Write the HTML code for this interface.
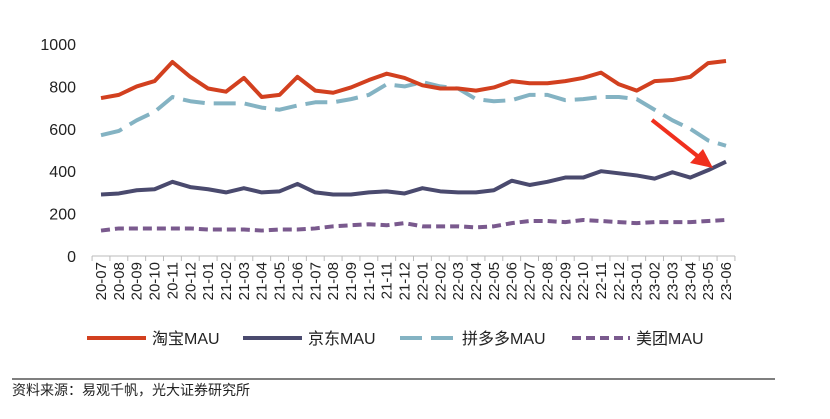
<!DOCTYPE html>
<html><head><meta charset="utf-8"><style>
body{margin:0;background:#fff;}
svg text{font-family:"Liberation Sans","Noto Sans CJK SC",sans-serif;}
</style></head><body>
<svg id="chart" width="830" height="414" xmlns="http://www.w3.org/2000/svg">
<g id="axes"></g>
<g id="series"></g>
<line x1="652" y1="120" x2="700" y2="158" stroke="#f0301e" stroke-width="4"/>
<polygon points="713,168 690,163 703,149" fill="#f0301e"/>
<g>
<line x1="87" y1="338" x2="146" y2="338" stroke="#d2401f" stroke-width="4"/>
<text x="152" y="344" font-size="16" fill="#222">淘宝MAU</text>
<line x1="243" y1="338" x2="302" y2="338" stroke="#4a4a6e" stroke-width="4"/>
<text x="308" y="344" font-size="16" fill="#222">京东MAU</text>
<line x1="400" y1="338" x2="456" y2="338" stroke="#84b3c3" stroke-width="4" stroke-dasharray="22,9"/>
<text x="462" y="344" font-size="16" fill="#222">拼多多MAU</text>
<line x1="572" y1="338" x2="630" y2="338" stroke="#7a5a8e" stroke-width="4" stroke-dasharray="9,5"/>
<text x="636" y="344" font-size="16" fill="#222">美团MAU</text>
</g>
<line x1="12" y1="379" x2="775" y2="379" stroke="#555" stroke-width="1.5"/>
<text x="12" y="395" font-size="14" fill="#222">资料来源：易观千帆，光大证券研究所</text>
</svg>
<script>
const categories=["20-07","20-08","20-09","20-10","20-11","20-12","21-01","21-02","21-03","21-04","21-05","21-06","21-07","21-08","21-09","21-10","21-11","21-12","22-01","22-02","22-03","22-04","22-05","22-06","22-07","22-08","22-09","22-10","22-11","22-12","23-01","23-02","23-03","23-04","23-05","23-06"];
const taobao=[745,760,800,825,915,845,790,775,840,750,760,845,780,770,795,830,860,840,805,790,790,780,795,825,815,815,825,840,865,810,780,825,830,845,910,920];
const pdd=[570,590,640,680,750,730,720,720,720,700,690,710,725,725,740,760,810,800,820,800,790,740,730,735,760,760,735,740,750,750,740,690,640,600,545,520];
const jd=[290,295,310,315,350,325,315,300,320,300,305,340,300,290,290,300,305,295,320,305,300,300,310,355,335,350,370,370,400,390,380,365,395,370,405,445];
const meituan=[120,130,130,130,130,130,125,125,125,120,125,125,130,140,145,150,145,155,140,140,140,135,140,155,165,165,160,170,165,160,155,160,160,160,165,170];
const yTicks=[0,200,400,600,800,1000];
const NS="http://www.w3.org/2000/svg";
const x0=101,x1=726,yB=256,yT=44;
const step=(x1-x0)/(categories.length-1);
function xs(i){return x0+i*step;}
function ys(v){return yB-(v/1000)*(yB-yT);}
const axes=document.getElementById('axes');
function mk(tag,attrs,parent){const e=document.createElementNS(NS,tag);for(const k in attrs)e.setAttribute(k,attrs[k]);parent.appendChild(e);return e;}
yTicks.forEach(t=>{
  const tx=mk('text',{x:76,y:ys(t)+6,'text-anchor':'end','font-size':16,fill:'#222'},axes);
  
  
  tx.textContent=t;
});
const ax=mk('line',{x1:x0-step/2,y1:yB,x2:x1+step/2,y2:yB,stroke:'#bbb','stroke-width':1},axes);


for(let i=0;i<=categories.length;i++){
  const tk=mk('line',{x1:xs(i)-step/2,y1:yB,x2:xs(i)-step/2,y2:yB+5,stroke:'#bbb'},axes);
  
  
}
categories.forEach((c,i)=>{
  const tx=mk('text',{transform:`translate(${xs(i)+5},${yB+6}) rotate(-90)`,'text-anchor':'end','font-size':15,fill:'#222'},axes);
  
  
  tx.textContent=c;
});
const sg=document.getElementById('series');
function line(data,color,dash,name){
  const p=mk('polyline',{points:data.map((v,i)=>xs(i)+','+ys(v)).join(' '),fill:'none',stroke:color,'stroke-width':4,'stroke-linejoin':'round','stroke-dasharray':dash},sg);
  
  
}
line(meituan,'#7a5a8e','9,5','meituan-line');
line(jd,'#4a4a6e','none','jd-line');
line(pdd,'#84b3c3','22,9','pdd-line');
line(taobao,'#d2401f','none','taobao-line');
</script>
</body></html>
